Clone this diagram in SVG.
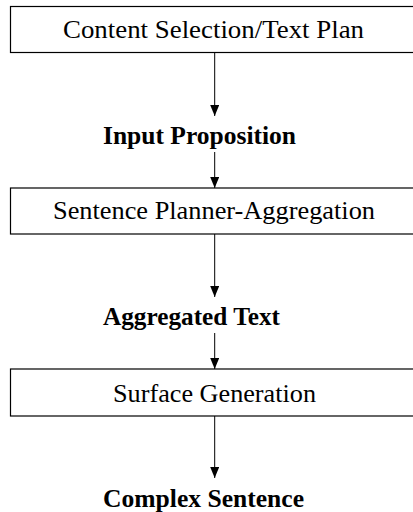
<svg xmlns="http://www.w3.org/2000/svg" width="413" height="512" viewBox="0 0 413 512">
<defs>
<style>
.box{fill:#fff;stroke:#000;stroke-width:1.2}
.t{font-family:"Liberation Serif","Times New Roman",serif;font-size:25px;fill:#000}
.b{font-family:"Liberation Serif","Times New Roman",serif;font-size:25px;font-weight:bold;fill:#000}
.c{stroke:#000;stroke-width:1;fill:none;marker-end:url(#ah)}
</style>
<marker id="ah" markerWidth="11" markerHeight="9" refX="11" refY="4.5" orient="auto" markerUnits="userSpaceOnUse" viewBox="0 0 11 9">
<path d="M0,0 L11,4.5 L0,9 Z" fill="#000"/>
</marker>
</defs>
<rect width="413" height="512" fill="#fff"/>
<g id="connectors">
<line class="c" x1="214.7" y1="52.5" x2="214.7" y2="116"/>
<line class="c" x1="214.7" y1="152" x2="214.7" y2="188"/>
<line class="c" x1="214.7" y1="234" x2="214.7" y2="297"/>
<line class="c" x1="214.7" y1="333" x2="214.7" y2="369"/>
<line class="c" x1="214.7" y1="416" x2="214.7" y2="478"/>
</g>
<g id="content-selection">
<rect class="box" x="10.5" y="6.5" width="410" height="46"/>
<text class="t" x="63" y="38" textLength="301" lengthAdjust="spacingAndGlyphs">Content Selection/Text Plan</text>
</g>
<g id="input-proposition">
<text class="b" x="103" y="144" textLength="193" lengthAdjust="spacingAndGlyphs">Input Proposition</text>
</g>
<g id="sentence-planner">
<rect class="box" x="10.5" y="188" width="410" height="46"/>
<text class="t" x="53" y="219" textLength="322" lengthAdjust="spacingAndGlyphs">Sentence Planner-Aggregation</text>
</g>
<g id="aggregated-text">
<text class="b" x="103" y="325" textLength="177" lengthAdjust="spacingAndGlyphs">Aggregated Text</text>
</g>
<g id="surface-generation">
<rect class="box" x="10.5" y="369" width="410" height="47"/>
<text class="t" x="113" y="402" textLength="203" lengthAdjust="spacingAndGlyphs">Surface Generation</text>
</g>
<g id="complex-sentence">
<text class="b" x="103" y="507" textLength="201" lengthAdjust="spacingAndGlyphs">Complex Sentence</text>
</g>
</svg>
